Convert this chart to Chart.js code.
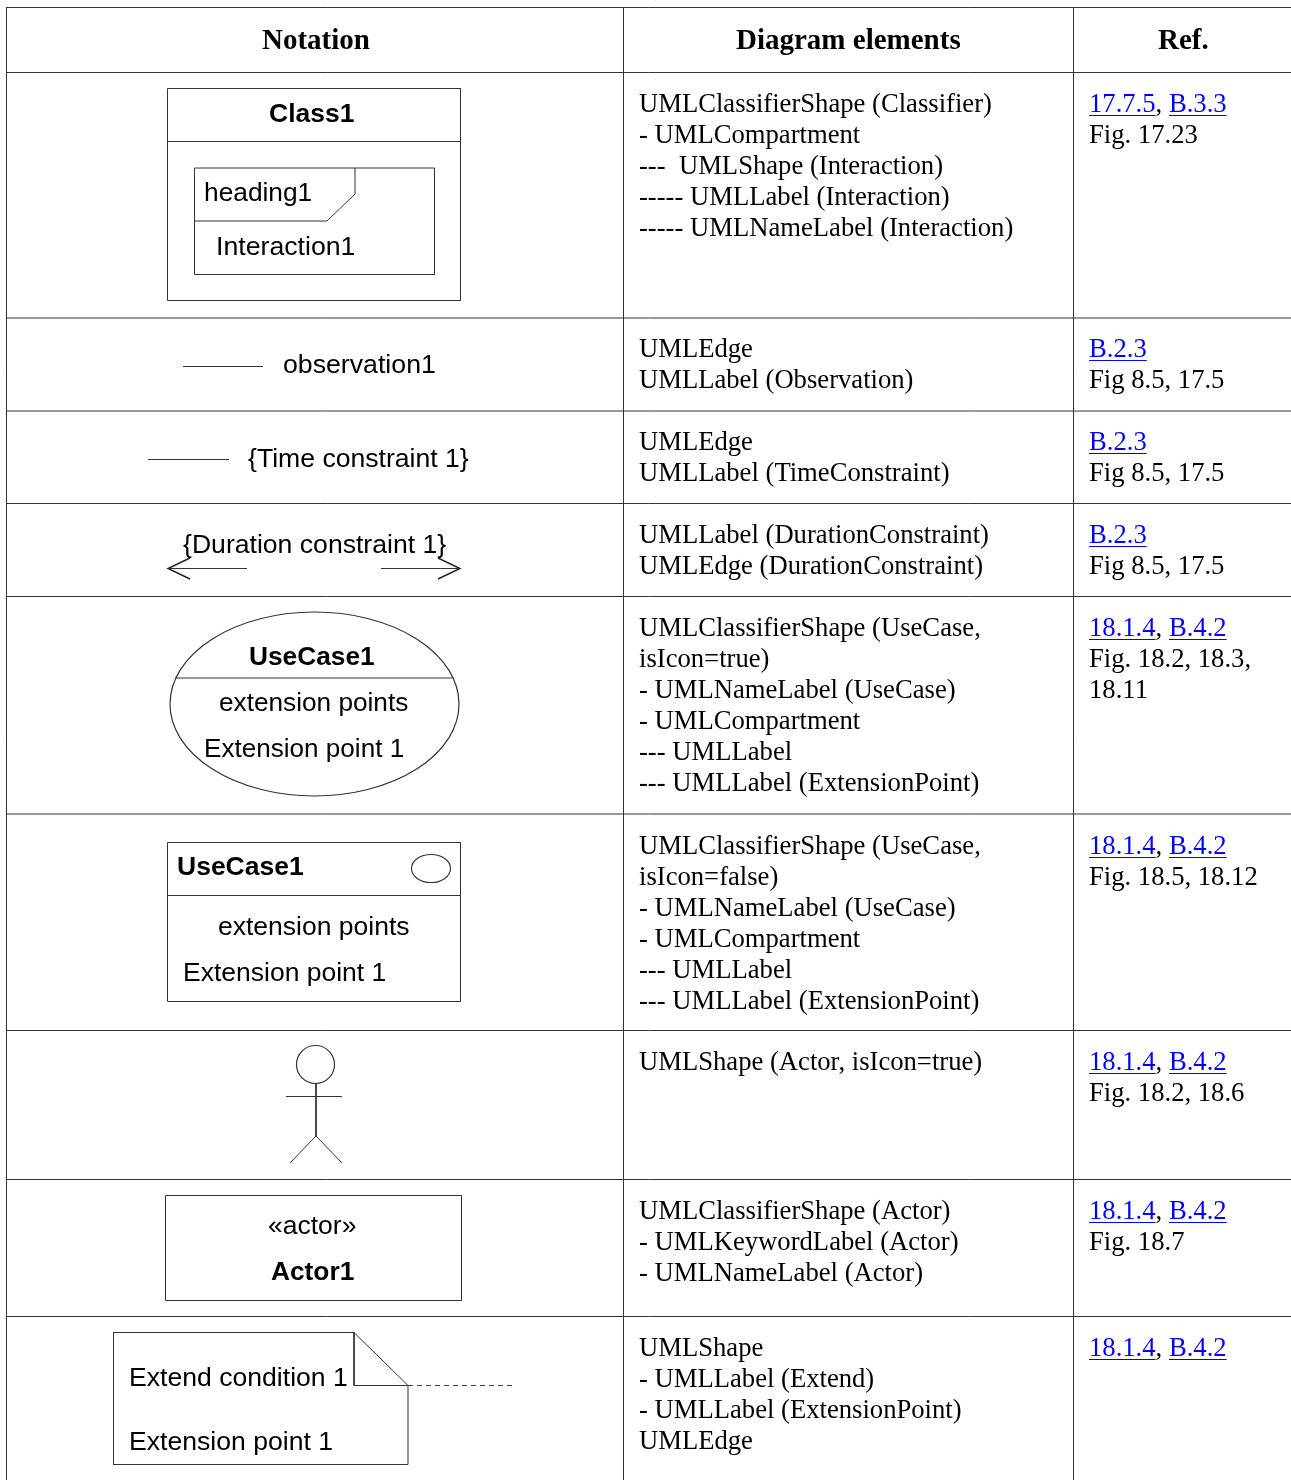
<!DOCTYPE html>
<html>
<head>
<meta charset="utf-8">
<title>Notation table</title>
<script src="https://cdn.jsdelivr.net/npm/chart.js@4"></script>
<style>
html, body { margin: 0; padding: 0; background: #fff; overflow: hidden; }
canvas { display: block; }
</style>
</head>
<body>
<canvas id="tabla" width="1291" height="1480"></canvas>
<script>
// table text
const headers = ['Notation', 'Diagram elements', 'Ref.']
const elementLines = [
    ['UMLClassifierShape (Classifier)', '- UMLCompartment', '---  UMLShape (Interaction)', '----- UMLLabel (Interaction)', '----- UMLNameLabel (Interaction)'],
    ['UMLEdge', 'UMLLabel (Observation)'],
    ['UMLEdge', 'UMLLabel (TimeConstraint)'],
    ['UMLLabel (DurationConstraint)', 'UMLEdge (DurationConstraint)'],
    ['UMLClassifierShape (UseCase,', 'isIcon=true)', '- UMLNameLabel (UseCase)', '- UMLCompartment', '--- UMLLabel', '--- UMLLabel (ExtensionPoint)'],
    ['UMLClassifierShape (UseCase,', 'isIcon=false)', '- UMLNameLabel (UseCase)', '- UMLCompartment', '--- UMLLabel', '--- UMLLabel (ExtensionPoint)'],
    ['UMLShape (Actor, isIcon=true)'],
    ['UMLClassifierShape (Actor)', '- UMLKeywordLabel (Actor)', '- UMLNameLabel (Actor)'],
    ['UMLShape', '- UMLLabel (Extend)', '- UMLLabel (ExtensionPoint)', 'UMLEdge']
]
const refLinks = [
    ['17.7.5', 'B.3.3'], ['B.2.3'], ['B.2.3'], ['B.2.3'], ['18.1.4', 'B.4.2'],
    ['18.1.4', 'B.4.2'], ['18.1.4', 'B.4.2'], ['18.1.4', 'B.4.2'], ['18.1.4', 'B.4.2']
]
const refFigures = [
    ['Fig. 17.23'], ['Fig 8.5, 17.5'], ['Fig 8.5, 17.5'], ['Fig 8.5, 17.5'], ['Fig. 18.2, 18.3,', '18.11'],
    ['Fig. 18.5, 18.12'], ['Fig. 18.2, 18.6'], ['Fig. 18.7'], []
]
const rowBaselines = [112, 357, 450, 543, 636, 854, 1070, 1219, 1356]

// notation column labels
const notationLabels = ['Class1', 'heading1', 'Interaction1', 'observation1', '{Time constraint 1}', '{Duration constraint 1}',
    'UseCase1', 'extension points', 'Extension point 1', 'UseCase1', 'extension points', 'Extension point 1',
    '«actor»', 'Actor1', 'Extend condition 1', 'Extension point 1']
const notationBold = [true, false, false, false, false, false, true, false, false, true, false, false, false, true, false, false]
const notationX = [269, 204, 216, 283, 248, 183, 249, 219, 204, 177, 218, 183, 268, 271, 129, 129]
const notationY = [121.5, 201, 254.5, 373, 466.5, 553, 664.5, 711, 757, 875, 935, 981, 1234, 1279.5, 1385.5, 1449.5]
const notationSize = [26.5, 26.3, 26.7, 26.7, 26.6, 26.6, 26.3, 26.2, 26.1, 26.5, 26.5, 26.5, 26.5, 26.3, 26.6, 26.6]

// table rules
const rowRules = [7.5, 72.5, 318, 411, 503.5, 596.5, 814, 1030.5, 1179.5, 1316.5]
const columnRules = [6.5, 623.5, 1073.5]

// notation shapes, in the same units as the axes
const classBox = [[167.5, 88.5], [460.5, 88.5], [460.5, 300.5], [167.5, 300.5], [167.5, 88.5]]
const classDivider = [[167.5, 141.5], [460.5, 141.5]]
const frameBox = [[194.5, 168], [434.5, 168], [434.5, 274.5], [194.5, 274.5], [194.5, 168]]
const frameTab = [[194.5, 221], [327, 221], [355, 194], [355, 168]]
const observationEdge = [[183, 366.5], [263, 366.5]]
const timeEdge = [[148, 459.5], [229, 459.5]]
const durationLeft = [[168, 568.5], [247, 568.5]]
const durationLeftHead = [[190, 558], [168, 568.5], [190, 579]]
const durationRight = [[381, 568.5], [460, 568.5]]
const durationRightHead = [[438, 558], [460, 568.5], [438, 579]]
const useCaseDivider = [[175, 678], [453, 678]]
const useBox = [[167.5, 842.5], [460.5, 842.5], [460.5, 1001.5], [167.5, 1001.5], [167.5, 842.5]]
const useDivider = [[167.5, 895.5], [460.5, 895.5]]
const actorBody = [[316, 1083], [316, 1136]]
const actorArms = [[286, 1096.5], [342, 1096.5]]
const actorLegs = [[290, 1163], [316, 1136], [342, 1163]]
const actorBox = [[165.5, 1195.5], [461.5, 1195.5], [461.5, 1300.5], [165.5, 1300.5], [165.5, 1195.5]]
const noteOutline = [[354, 1332.5], [113.5, 1332.5], [113.5, 1464.5], [408, 1464.5], [408, 1385.5], [354, 1332.5]]
const noteFold = [[354, 1332.5], [354, 1385.5], [408, 1385.5]]
const noteEdge = [[408, 1385.5], [512, 1385.5]]
// cx, cy, rx, ry
const ellipses = [[314.5, 704, 144.5, 92], [431, 868.5, 19.5, 14], [315.5, 1064.5, 19, 19]]

const solidShapes = [classBox, classDivider, frameBox, frameTab, observationEdge, timeEdge, durationLeft,
    durationRight, useCaseDivider, useBox, useDivider, actorBody, actorArms, actorLegs, actorBox, noteOutline, noteFold]
const heavyShapes = [durationLeftHead, durationRightHead]

const SERIF = '"Liberation Serif"'
const SANS = '"Liberation Sans"'

function toXY(points) {
    return points.map(p => ({ x: p[0], y: p[1] }))
}

function lineSet(points, color, dash, width) {
    return {
        data: toXY(points),
        showLine: true,
        pointRadius: 0,
        borderColor: color,
        borderWidth: width || 1,
        borderDash: dash || [],
        tension: 0
    }
}

const datasets = []
rowRules.forEach(y => datasets.push(lineSet([[6, y], [1291, y]], '#333')))
columnRules.forEach(x => datasets.push(lineSet([[x, 7], [x, 1480]], '#333')))
solidShapes.forEach(s => datasets.push(lineSet(s, '#333')))
heavyShapes.forEach(s => datasets.push(lineSet(s, '#222', [], 1.4)))
datasets.push(lineSet(noteEdge, '#444', [5, 4]))

// ellipses and all text go through the chart's scales
const tableText = {
    id: 'tableText',
    afterDatasetsDraw(chart) {
        const c = chart.ctx
        const sx = chart.scales.x
        const sy = chart.scales.y
        c.save()

        c.strokeStyle = '#333'
        c.lineWidth = 1.2
        ellipses.forEach(e => {
            c.beginPath()
            c.ellipse(sx.getPixelForValue(e[0]), sy.getPixelForValue(e[1]), e[2], e[3], 0, 0, Math.PI * 2)
            c.stroke()
        })

        c.textBaseline = 'alphabetic'
        c.textAlign = 'left'
        c.fillStyle = '#000'

        c.font = 'bold 29px ' + SERIF
        const headerX = [262, 736, 1158]
        headers.forEach((h, i) => c.fillText(h, sx.getPixelForValue(headerX[i]), sy.getPixelForValue(49)))

        notationLabels.forEach((t, i) => {
            c.font = (notationBold[i] ? 'bold ' : '') + notationSize[i] + 'px ' + SANS
            c.fillText(t, sx.getPixelForValue(notationX[i]), sy.getPixelForValue(notationY[i]))
        })

        c.font = '26.65px ' + SERIF
        elementLines.forEach((lines, r) => {
            lines.forEach((t, i) => {
                c.fillText(t, sx.getPixelForValue(639), sy.getPixelForValue(rowBaselines[r] + i * 31))
            })
        })

        refLinks.forEach((links, r) => {
            let x = sx.getPixelForValue(1089)
            const y = sy.getPixelForValue(rowBaselines[r])
            links.forEach((t, i) => {
                if (i > 0) {
                    c.fillStyle = '#000'
                    c.fillText(', ', x, y)
                    x += c.measureText(', ').width
                }
                const w = c.measureText(t).width
                c.fillStyle = '#0000ff'
                c.fillText(t, x, y)
                c.fillRect(x, y + 3, w, 1)
                x += w
            })
            c.fillStyle = '#000'
            refFigures[r].forEach((t, i) => {
                c.fillText(t, sx.getPixelForValue(1089), sy.getPixelForValue(rowBaselines[r] + (i + 1) * 31))
            })
        })
        c.restore()
    }
}

new Chart(document.getElementById('tabla'), {
    type: 'scatter',
    data: { datasets: datasets },
    options: {
        responsive: false,
        animation: false,
        events: [],
        layout: { padding: 0 },
        plugins: { legend: { display: false }, tooltip: { enabled: false } },
        scales: {
            x: { type: 'linear', min: 0, max: 1291, display: false },
            y: { type: 'linear', min: 0, max: 1480, reverse: true, display: false }
        }
    },
    plugins: [tableText]
})
</script>
</body>
</html>
